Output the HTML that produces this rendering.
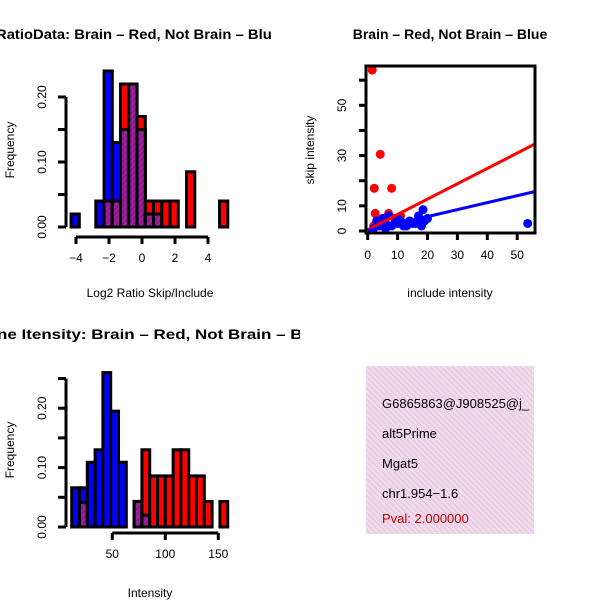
<!DOCTYPE html>
<html><head><meta charset="utf-8"><style>
body{margin:0;background:#fff}
svg{display:block;font-family:"Liberation Sans",sans-serif}
</style></head><body>
<svg id="c" width="600" height="600" viewBox="0 0 600 600">
<defs>
<pattern id="hatch" width="4" height="4" patternUnits="userSpaceOnUse" patternTransform="rotate(45)"><rect width="4" height="4" fill="#a020a0"/><rect width="2" height="4" fill="#8a1a90"/></pattern>
<pattern id="pink" width="4" height="4" patternUnits="userSpaceOnUse" patternTransform="rotate(-45)"><rect width="4" height="4" fill="#f6d8f2"/><rect width="1.3" height="4" fill="#dcd0d8"/></pattern>
<clipPath id="clipL"><rect x="0" y="0" width="272" height="600"/></clipPath>
<clipPath id="clipB"><rect x="0" y="0" width="300" height="600"/></clipPath>
<clipPath id="clipS"><rect x="366" y="66" width="169" height="167"/></clipPath>
</defs>
<g id="p1"></g>
<g id="p2"></g>
<g id="p3"></g>
<g>
<rect x="366" y="366" width="168" height="168" fill="url(#pink)"/>
<text x="382" y="408" font-size="13">G6865863@J908525@j_</text>
<text x="382" y="438" font-size="13">alt5Prime</text>
<text x="382" y="468" font-size="13">Mgat5</text>
<text x="382" y="498" font-size="13">chr1.954−1.6</text>
<text x="382" y="523" font-size="13" fill="#c00000">Pval: 2.000000</text>
</g>
</svg>
<script>
// ---- Plot 1 data (log2 ratio histogram)
const ratioBinStart = -4.3;
const ratioBinWidth = 0.5;
const ratioBlue = [0.02,0,0,0.04,0.24,0.13,0.15,0.22,0.15,0.02,0.02,0,0,0,0,0,0,0,0];
const ratioRed  = [0,0,0,0,0.04,0.04,0.22,0.22,0.17,0.04,0.04,0.04,0.04,0,0.085,0,0,0,0.04];
const ratioXTicks = [-4,-2,0,2,4];
const ratioYTicks = [0,0.05,0.10,0.15,0.20];
const ratioYLabels = ["0.00","","0.10","","0.20"];
// ---- Plot 2 data (scatter)
const redX = [1.5,4.2,2.2,8,2.5,7,11,3,5,9,2,6];
const redY = [64,30.5,17,17,7,7,6,3,4,5,2,3];
const blueX = [18.5,53.5,3,5,7,9,11,13,15,17,19,20,12,14,16,2,4,6,8,10,18,10,6,3,12,17];
const blueY = [8.5,3,4,5,6,3,4,2,3,5,4,5,2,4,3,1,2,3,2,3,2,5,1,2,3,6];
const redFit = [0.5,0.61];
const blueFit = [0.2,0.277];
const scatXTicks = [0,10,20,30,40,50];
const scatYTicks = [0,10,20,30,40,50,60];
const scatYLabels = ["0","10","","30","","50",""];
// ---- Plot 3 data (intensity histogram)
const intBinStart = 11.7;
const intBinWidth = 7.36;
const intBlue = [0.066,0.066,0.109,0.13,0.26,0.195,0.109,0,0.043,0.02,0,0,0,0,0,0,0,0,0,0];
const intRed  = [0,0.041,0,0,0,0,0,0,0.043,0.13,0.086,0.086,0.086,0.13,0.13,0.086,0.086,0.043,0,0.043];
const intXTicks = [50,100,150];
const intYTicks = [0,0.05,0.10,0.15,0.20,0.25];
const intYLabels = ["0.00","","0.10","","0.20",""];

const NS="http://www.w3.org/2000/svg";
function mk(parent,tag,attrs,txt){const e=document.createElementNS(NS,tag);for(const k in attrs)e.setAttribute(k,attrs[k]);if(txt!=null)e.textContent=txt;parent.appendChild(e);return e;}

function hist(g,o){
  const sx=v=>o.x0+(v-o.xv0)*o.kx, sy=v=>o.y0-v*o.ky;
  for(let i=0;i<o.blue.length;i++){
    const a=o.start+i*o.w,b=a+o.w;
    const layers=[[o.blue[i],"#0000ff","bar-blue"],[o.red[i],"#ff0000","bar-red"],[Math.min(o.blue[i],o.red[i]),"url(#hatch)","bar-overlap"]];
    for(const [v,f,n] of layers){ if(v<=0) continue;
      const r=mk(g,"rect",{x:sx(a),y:sy(v),width:sx(b)-sx(a),height:sy(0)-sy(v),fill:f,stroke:"#000","stroke-width":3});
      
      
    }
  }
  const ax=mk(g,"g",{});
  
  
  mk(ax,"line",{x1:sx(o.xt[0]),x2:sx(o.xt[o.xt.length-1]),y1:o.xAxisY,y2:o.xAxisY,stroke:"#000","stroke-width":3});
  o.xt.forEach(t=>{mk(ax,"line",{x1:sx(t),x2:sx(t),y1:o.xAxisY,y2:o.xAxisY+7,stroke:"#000","stroke-width":3});
    const tx=mk(ax,"text",{x:sx(t),y:o.xAxisY+25,"font-size":12,"text-anchor":"middle"},t<0?"−"+(-t):String(t));
    
    });
  const ay=mk(g,"g",{});
  
  
  mk(ay,"line",{x1:66,x2:66,y1:sy(o.yt[0]),y2:sy(o.yt[o.yt.length-1]),stroke:"#000","stroke-width":3});
  o.yt.forEach((t,i)=>{mk(ay,"line",{x1:66,x2:58,y1:sy(t),y2:sy(t),stroke:"#000","stroke-width":3});
    if(o.yl[i]){const tx=mk(ay,"text",{x:46,y:sy(t),"font-size":12,"text-anchor":"middle",transform:`rotate(-90 46 ${sy(t)})`},o.yl[i]);
    
    }});
  const yt=mk(g,"text",{x:14,y:o.yMid,"font-size":12,"text-anchor":"middle",transform:`rotate(-90 14 ${o.yMid})`},"Frequency");
  
  
  const xt=mk(g,"text",{x:o.xlabX,y:o.xlabY,"font-size":12,"text-anchor":"middle"},o.xlab);
  
  
}

const p1=document.getElementById("p1");
hist(p1,{x0:142,xv0:0,kx:16.5,y0:227,ky:650,start:ratioBinStart,w:ratioBinWidth,blue:ratioBlue,red:ratioRed,xt:ratioXTicks,yt:ratioYTicks,yl:ratioYLabels,xAxisY:237,yMid:150,xlab:"Log2 Ratio Skip/Include",xlabX:150,xlabY:297});
const t1=mk(p1,"text",{x:-4,y:39,"font-size":14,"font-weight":"bold","clip-path":"url(#clipL)",textLength:284,lengthAdjust:"spacingAndGlyphs"},"RatioData: Brain – Red, Not Brain – Blue");



const p3=document.getElementById("p3");
hist(p3,{x0:112.3,xv0:50,kx:1.06,y0:527,ky:594,start:intBinStart,w:intBinWidth,blue:intBlue,red:intRed,xt:intXTicks,yt:intYTicks,yl:intYLabels,xAxisY:533,yMid:450,xlab:"Intensity",xlabX:150,xlabY:597});
const t3=mk(p3,"text",{x:-3,y:339,"font-size":14,"font-weight":"bold","clip-path":"url(#clipB)",textLength:330,lengthAdjust:"spacingAndGlyphs"},"ne Itensity: Brain – Red, Not Brain – Blue");



// scatter
const p2=document.getElementById("p2");
const sx2=v=>367.7+v*2.99, sy2=v=>231-v*2.514;
const t2=mk(p2,"text",{x:450,y:39,"font-size":14,"font-weight":"bold","text-anchor":"middle"},"Brain – Red, Not Brain – Blue");


const pts=mk(p2,"g",{"clip-path":"url(#clipS)"});


redX.forEach((x,i)=>{const c=mk(pts,"circle",{cx:sx2(x),cy:sy2(redY[i]),r:4.5,fill:"#ff0000"});
  
  });
blueX.forEach((x,i)=>{const c=mk(pts,"circle",{cx:sx2(x),cy:sy2(blueY[i]),r:4.5,fill:"#0000ff"});
  
  });
const l1=mk(pts,"line",{x1:sx2(0),y1:sy2(redFit[0]),x2:sx2(60),y2:sy2(redFit[0]+60*redFit[1]),stroke:"#ff0000","stroke-width":3});


const l2=mk(pts,"line",{x1:sx2(0),y1:sy2(blueFit[0]),x2:sx2(60),y2:sy2(blueFit[0]+60*blueFit[1]),stroke:"#0000ff","stroke-width":3});


const box=mk(p2,"rect",{x:366,y:66,width:169,height:167,fill:"none",stroke:"#000","stroke-width":3});


scatXTicks.forEach(t=>{mk(p2,"line",{x1:sx2(t),x2:sx2(t),y1:233,y2:240,stroke:"#000","stroke-width":3});
  const tx=mk(p2,"text",{x:sx2(t),y:259,"font-size":12,"text-anchor":"middle"},String(t));
  
  });
scatYTicks.forEach((t,i)=>{mk(p2,"line",{x1:366,x2:359,y1:sy2(t),y2:sy2(t),stroke:"#000","stroke-width":3});
  if(scatYLabels[i]){const tx=mk(p2,"text",{x:346,y:sy2(t),"font-size":12,"text-anchor":"middle",transform:`rotate(-90 346 ${sy2(t)})`},scatYLabels[i]);
  
  }});
const xl=mk(p2,"text",{x:450,y:297,"font-size":12,"text-anchor":"middle"},"include intensity");


const yl=mk(p2,"text",{x:314,y:150,"font-size":12,"text-anchor":"middle",transform:"rotate(-90 314 150)"},"skip intensity");


</script>
</body></html>
